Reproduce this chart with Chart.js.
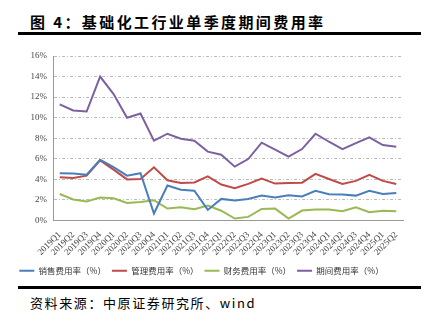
<!DOCTYPE html>
<html>
<head>
<meta charset="utf-8">
<script src="https://cdn.jsdelivr.net/npm/chart.js@4.4.1/dist/chart.umd.min.js"></script>
<style>
  body { margin: 0; width: 441px; height: 324px; background: #fff; position: relative; overflow: hidden; }
  .title { position: absolute; left: 30px; top: 11px; font: bold 15px "Noto Sans CJK SC"; letter-spacing: 2.4px; color: #000; }
  .rule { position: absolute; left: 18px; width: 403px; height: 2.5px; background: #000; }
  .source { position: absolute; left: 30px; top: 293px; font: 13px "Noto Sans CJK SC"; letter-spacing: 1.6px; color: #000; }
  #wrap { position: absolute; left: 0; top: 40px; }
</style>
</head>
<body>
<div class="title">图 4：基础化工行业单季度期间费用率</div>
<div class="rule" style="top:32px"></div>
<div id="wrap"><canvas id="chart" width="441" height="245"></canvas></div>
<div class="rule" style="top:286px"></div>
<div class="source">资料来源：中原证券研究所、wind</div>
<script>
// ========================= //
//  Données //
// ========================= //
const quarters = [
    "2019Q1", "2019Q2", "2019Q3", "2019Q4", "2020Q1", "2020Q2", "2020Q3", "2020Q4",
    "2021Q1", "2021Q2", "2021Q3", "2021Q4", "2022Q1", "2022Q2", "2022Q3", "2022Q4",
    "2023Q1", "2023Q2", "2023Q3", "2023Q4", "2024Q1", "2024Q2", "2024Q3", "2024Q4",
    "2025Q1", "2025Q2"
];

const sales = [4.6, 4.56, 4.46, 5.9, 5.2, 4.36, 4.6, 0.68, 3.4, 3.0, 2.9, 1.03, 2.1,
    1.94, 2.1, 2.42, 2.23, 2.46, 2.33, 2.88, 2.55, 2.52, 2.42, 2.88, 2.58, 2.68];

const admin = [4.2, 4.14, 4.36, 5.85, 4.95, 4.0, 4.04, 5.17, 3.91, 3.65, 3.7, 4.3, 3.5,
    3.14, 3.56, 4.07, 3.59, 3.65, 3.68, 4.53, 4.04, 3.56, 3.85, 4.43, 3.85, 3.56];

const finance = [2.58, 2.04, 1.84, 2.23, 2.17, 1.71, 1.81, 1.97, 1.16, 1.29, 1.1, 1.46, 0.95,
    0.19, 0.35, 1.13, 1.16, 0.19, 0.97, 1.07, 1.07, 0.9, 1.29, 0.81, 0.94, 0.9];

const period = [11.3, 10.7, 10.6, 14.0, 12.3, 10.0, 10.4, 7.76, 8.44, 7.95, 7.76, 6.7, 6.4,
    5.24, 5.98, 7.57, 6.89, 6.21, 6.95, 8.44, 7.66, 6.95, 7.53, 8.08, 7.34, 7.18];

const yTicks = [0, 2, 4, 6, 8, 10, 12, 14, 16];

function serie(label, data, color) {
    return {
        label: label,
        data: data,
        borderColor: color,
        backgroundColor: color,
        borderWidth: 2,
        pointRadius: 0,
        tension: 0,
        fill: false
    };
}

new Chart(document.getElementById("chart").getContext("2d"), {
    type: "line",
    data: {
        labels: quarters,
        datasets: [
            serie("销售费用率（%）", sales, "#4a7ebb"),
            serie("管理费用率（%）", admin, "#be4b48"),
            serie("财务费用率（%）", finance, "#98b954"),
            serie("期间费用率（%）", period, "#7d60a0")
        ]
    },
    options: {
        responsive: false,
        animation: false,
        layout: { padding: { left: 0, right: 38, top: 16, bottom: 0 } },
        plugins: {
            tooltip: { enabled: false },
            legend: {
                position: "bottom",
                labels: {
                    usePointStyle: true,
                    pointStyle: "line",
                    pointStyleWidth: 15,
                    boxHeight: 2,
                    padding: 6,
                    color: "#333",
                    font: { family: "Noto Sans CJK SC", size: 8.5 }
                }
            }
        },
        scales: {
            x: {
                offset: true,
                grid: { display: false },
                border: { display: true, color: "#999", width: 1 },
                ticks: {
                    minRotation: 45,
                    maxRotation: 45,
                    autoSkip: false,
                    padding: 1,
                    color: "#444",
                    font: { family: "Liberation Serif", size: 9 }
                },
                afterFit: s => { s.height = 40; }
            },
            y: {
                min: 0,
                max: 16,
                afterBuildTicks: s => { s.ticks = yTicks.map(v => ({ value: v })); },
                grid: { color: "#bbb", drawTicks: false },
                border: { display: true, color: "#999", dash: [3, 2, 1, 2] },
                ticks: {
                    padding: 6,
                    color: "#444",
                    font: { family: "Liberation Serif", size: 9 },
                    callback: v => v + "%"
                },
                afterFit: s => { s.width = 53; }
            }
        }
    }
});
</script>
</body>
</html>
